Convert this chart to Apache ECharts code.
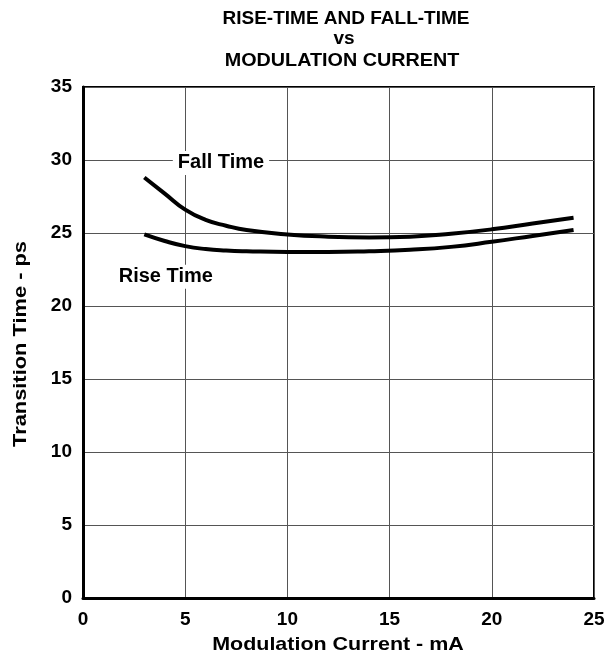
<!DOCTYPE html>
<html>
<head>
<meta charset="utf-8">
<script src="https://cdn.jsdelivr.net/npm/echarts@6/dist/echarts.min.js"></script>
<style>html,body{margin:0;padding:0;background:#fff}#c{width:608px;height:661px}</style>
</head>
<body>
<div id="c"></div>
<script>
const currents = [3, 4, 5, 6, 7, 8, 10, 12, 14, 16, 18, 20, 22, 24];
const fallTime = [28.8, 27.7, 26.6, 25.9, 25.5, 25.2, 24.9, 24.75, 24.7, 24.75, 24.95, 25.25, 25.65, 26.05];
const riseTime = [24.9, 24.45, 24.1, 23.9, 23.8, 23.75, 23.7, 23.7, 23.75, 23.85, 24.05, 24.4, 24.8, 25.2];
const xTicks = [0, 5, 10, 15, 20, 25];
const yTicks = [0, 5, 10, 15, 20, 25, 30, 35];
const titleLines = ['RISE-TIME AND FALL-TIME', 'vs', 'MODULATION CURRENT'];
const xName = 'Modulation Current - mA';
const yName = 'Transition Time - ps';
const fallLabelPos = [6.75, 29.8];
const riseLabelPos = [4.05, 22.0];

const FONT = '"Liberation Sans", Arial, sans-serif';
const chart = echarts.init(document.getElementById('c'));
const pair = (xs, ys) => xs.map((x, i) => [x, ys[i]]);

function txt(text, x, y, size, sx, rot) {
  return {
    type: 'text', x: x, y: y, rotation: rot || 0, scaleX: sx, scaleY: 1,
    style: { text: text, fill: '#000', font: 'bold ' + size + 'px ' + FONT,
      align: 'center', verticalAlign: 'middle', textAlign: 'center', textVerticalAlign: 'middle' }
  };
}

chart.setOption({
  animation: false,
  graphic: [
    txt(titleLines[0], 346, 19, 19, 1),
    txt(titleLines[1], 344, 39, 19, 1),
    txt(titleLines[2], 342, 61, 19, 1.04),
    txt(xName, 338, 645, 19, 1.13),
    txt(yName, 21, 344, 19, 1.15, Math.PI / 2)
  ],
  grid: { left: 83, right: 14, top: 87, bottom: 63, show: true, borderColor: '#000', borderWidth: 2 },
  xAxis: {
    type: 'value', min: 0, max: 25, interval: 5,
    axisLine: { show: true, lineStyle: { color: '#000', width: 3 } },
    axisTick: { show: false },
    axisLabel: { margin: 12, fontFamily: FONT, fontWeight: 'bold', fontSize: 19, color: '#000',
      formatter: v => xTicks.includes(v) ? String(v) : '' },
    splitLine: { show: true, lineStyle: { color: '#555', width: 1 } }
  },
  yAxis: {
    type: 'value', min: 0, max: 35, interval: 5,
    axisLine: { show: true, lineStyle: { color: '#000', width: 3 } },
    axisTick: { show: false },
    axisLabel: { margin: 11, fontFamily: FONT, fontWeight: 'bold', fontSize: 19, color: '#000',
      formatter: v => yTicks.includes(v) ? String(v) : '' },
    splitLine: { show: true, lineStyle: { color: '#555', width: 1 } }
  },
  series: [
    {
      name: 'Fall Time', type: 'line', smooth: 0.5, showSymbol: false,
      data: pair(currents, fallTime),
      lineStyle: { color: '#000', width: 4 },
      markPoint: {
        symbol: 'rect', symbolSize: 0,
        label: { show: true, formatter: 'Fall Time', position: 'inside', fontFamily: FONT, fontWeight: 'bold',
          fontSize: 20, color: '#000', backgroundColor: '#fff', padding: [2, 5] },
        data: [{ coord: fallLabelPos }]
      }
    },
    {
      name: 'Rise Time', type: 'line', smooth: 0.5, showSymbol: false,
      data: pair(currents, riseTime),
      lineStyle: { color: '#000', width: 4 },
      markPoint: {
        symbol: 'rect', symbolSize: 0,
        label: { show: true, formatter: 'Rise Time', position: 'inside', fontFamily: FONT, fontWeight: 'bold',
          fontSize: 20, color: '#000', backgroundColor: '#fff', padding: [2, 5] },
        data: [{ coord: riseLabelPos }]
      }
    }
  ]
});
</script>
</body>
</html>
